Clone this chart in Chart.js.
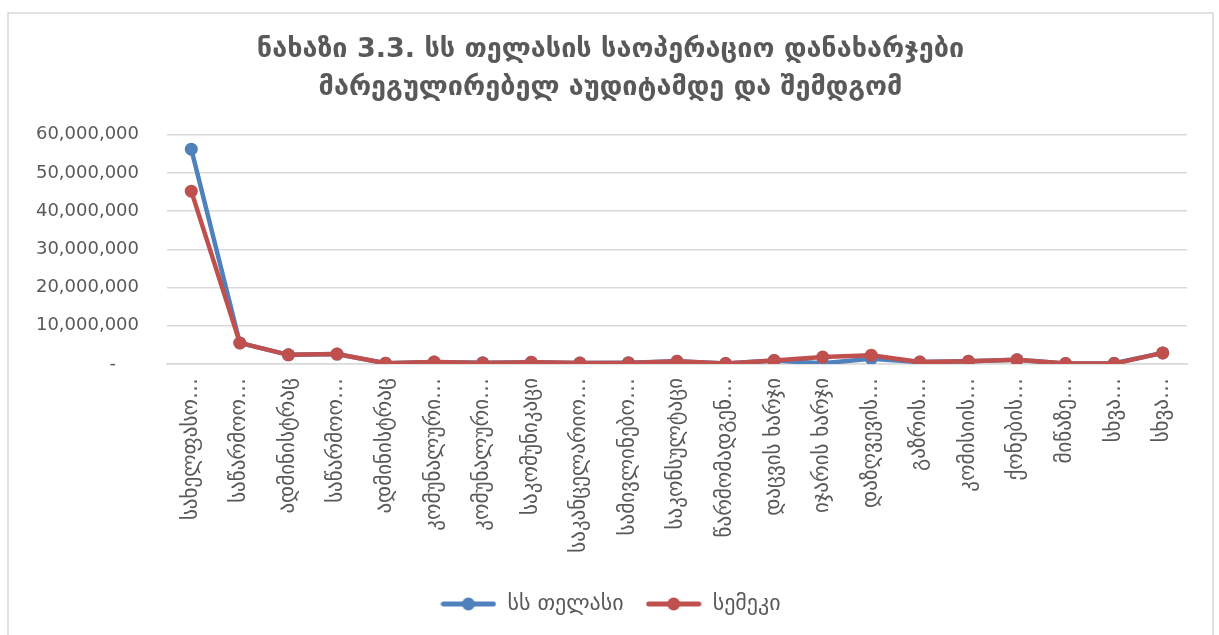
<!DOCTYPE html>
<html>
<head>
<meta charset="utf-8">
<script src="https://cdn.jsdelivr.net/npm/chart.js@4.4.1/dist/chart.umd.min.js"></script>
<style>
    html, body { margin: 0; padding: 0; background: #ffffff; }
    #wrap { width: 1219px; height: 635px; position: relative; }
</style>
</head>
<body>
<div id="wrap"><canvas id="chart"></canvas></div>
<script>
const categories = [
    'სახელფასო…', 'საწარმოო…', 'ადმინისტრაც', 'საწარმოო…', 'ადმინისტრაც',
    'კომუნალური…', 'კომუნალური…', 'საკომუნიკაცი', 'საკანცელარიო…', 'სამივლინებო…',
    'საკონსულტაცი', 'წარმომადგენ…', 'დაცვის ხარჯი', 'იჯარის ხარჯი', 'დაზღვევის…',
    'გაზრის…', 'კომისიის…', 'ქონების…', 'მიწაზე…', 'სხვა…', 'სხვა…',
];
const telasiValues = [
    56200000, 5500000, 2400000, 2600000, 200000,
    500000, 300000, 450000, 250000, 350000,
    700000, 100000, 900000, 200000, 1400000,
    500000, 700000, 1100000, 100000, 200000, 2900000,
];
const semekValues = [
    45200000, 5500000, 2400000, 2600000, 200000,
    500000, 250000, 450000, 250000, 250000,
    700000, 100000, 900000, 1800000, 2300000,
    500000, 700000, 1100000, 100000, 100000, 2900000,
];
const seriesNames = ['სს თელასი', 'სემეკი'];
const seriesColors = ['#4f81bd', '#c0504d'];
const titleLines = [
    'ნახაზი 3.3. სს თელასის საოპერაციო დანახარჯები',
    'მარეგულირებელ აუდიტამდე და შემდგომ',
];

const textColor = '#595959';
const gridColor = '#d9d9d9';
const font = '"DejaVu Sans", sans-serif';

function legendSwatch(color) {
    const c = document.createElement('canvas');
    c.width = 56;
    c.height = 14;
    const ctx = c.getContext('2d');
    ctx.strokeStyle = color;
    ctx.lineWidth = 5;
    ctx.lineCap = 'round';
    ctx.beginPath();
    ctx.moveTo(3, 7);
    ctx.lineTo(53, 7);
    ctx.stroke();
    ctx.fillStyle = color;
    ctx.beginPath();
    ctx.arc(28, 7, 6.5, 0, Math.PI * 2);
    ctx.fill();
    return c;
}

const frame = {
    id: 'frame',
    beforeDraw(chart) {
        const ctx = chart.ctx;
        ctx.save();
        ctx.strokeStyle = gridColor;
        ctx.lineWidth = 1.5;
        ctx.strokeRect(8, 13, 1205, 640);
        ctx.restore();
    },
};

function lineDataset(index, values, order) {
    return {
        label: seriesNames[index],
        data: values,
        borderColor: seriesColors[index],
        backgroundColor: seriesColors[index],
        pointBackgroundColor: seriesColors[index],
        pointBorderWidth: 0,
        pointRadius: 6.5,
        borderWidth: 4.5,
        tension: 0,
        order: order,
    };
}

new Chart(document.getElementById('chart'), {
    type: 'line',
    data: {
        labels: categories,
        datasets: [
            lineDataset(0, telasiValues, 1),
            lineDataset(1, semekValues, 0),
        ],
    },
    options: {
        responsive: true,
        maintainAspectRatio: false,
        animation: false,
        layout: {
            padding: { left: 34, right: 32, top: 0, bottom: 10 },
        },
        plugins: {
            title: {
                display: true,
                text: titleLines,
                color: textColor,
                font: { family: font, size: 27, weight: 'bold', lineHeight: 1.4 },
                padding: { top: 31, bottom: 28 },
            },
            legend: {
                position: 'bottom',
                labels: {
                    usePointStyle: true,
                    pointStyleWidth: 56,
                    color: textColor,
                    padding: 22,
                    font: { family: font, size: 22 },
                    generateLabels(chart) {
                        return chart.data.datasets.map((ds, i) => ({
                            text: ds.label,
                            fontColor: textColor,
                            pointStyle: legendSwatch(seriesColors[i]),
                            fillStyle: seriesColors[i],
                            strokeStyle: seriesColors[i],
                            lineWidth: 0,
                            hidden: false,
                            datasetIndex: i,
                        }));
                    },
                },
            },
            tooltip: { enabled: false },
        },
        scales: {
            x: {
                offset: true,
                grid: { display: false },
                border: { display: true, color: gridColor, width: 1.5 },
                ticks: {
                    color: textColor,
                    minRotation: 90,
                    maxRotation: 90,
                    autoSkip: false,
                    padding: 6,
                    font: { family: font, size: 21 },
                },
                afterFit(scale) {
                    scale.height = 207;
                },
            },
            y: {
                min: 0,
                max: 60000000,
                grid: { color: gridColor, lineWidth: 1.5, drawTicks: false },
                border: { display: false },
                ticks: {
                    stepSize: 10000000,
                    color: textColor,
                    padding: 28,
                    font: { family: font, size: 18 },
                    callback(value) {
                        return value === 0 ? '-    ' : value.toLocaleString('en-US');
                    },
                },
                afterFit(scale) {
                    scale.width = 133;
                },
            },
        },
    },
    plugins: [frame],
});
</script>
</body>
</html>
